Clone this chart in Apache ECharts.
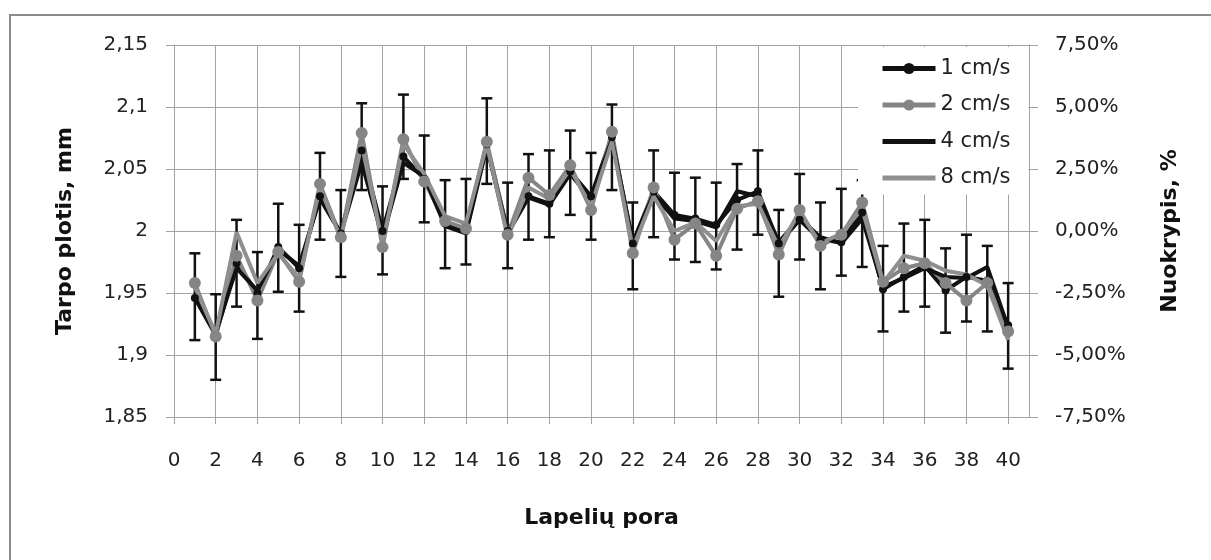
<!DOCTYPE html>
<html>
<head>
<meta charset="utf-8">
<script src="https://cdn.jsdelivr.net/npm/echarts@6/dist/echarts.min.js"></script>
<style>
html,body{margin:0;padding:0;background:#fff;}
#chart{width:1211px;height:560px;}
</style>
</head>
<body>
<div id="chart"></div>
<script>
// Lapelių pora (x)
const pora = [1,2,3,4,5,6,7,8,9,10,11,12,13,14,15,16,17,18,19,20,21,22,23,24,25,26,27,28,29,30,31,32,33,34,35,36,37,38,39,40];
// Tarpo plotis, mm
const v1 = [1.946,1.916,1.974,1.950,1.987,1.970,2.028,1.998,2.065,2.000,2.060,2.042,2.006,2.000,2.070,2.000,2.028,2.022,2.048,2.028,2.076,1.990,2.032,2.013,2.010,2.005,2.025,2.032,1.990,2.009,1.993,1.991,2.015,1.953,1.963,1.972,1.952,1.963,1.960,1.924];
const v2 = [1.958,1.915,1.980,1.944,1.983,1.959,2.038,1.995,2.079,1.987,2.074,2.040,2.008,2.002,2.072,1.997,2.043,2.029,2.053,2.017,2.080,1.982,2.035,1.993,2.006,1.980,2.018,2.024,1.981,2.017,1.988,1.997,2.023,1.959,1.970,1.974,1.958,1.944,1.958,1.919];
const v4 = [1.948,1.918,1.970,1.952,1.985,1.972,2.026,1.998,2.055,1.995,2.055,2.044,2.004,1.998,2.068,1.998,2.027,2.021,2.046,2.026,2.074,1.991,2.030,2.010,2.008,2.003,2.032,2.028,1.991,2.010,1.995,1.990,2.010,1.955,1.962,1.970,1.963,1.962,1.971,1.922];
const v8 = [1.955,1.917,1.999,1.958,1.982,1.962,2.035,1.994,2.070,1.990,2.070,2.046,2.012,2.006,2.070,1.995,2.035,2.026,2.050,2.020,2.072,1.986,2.028,2.000,2.007,1.992,2.020,2.022,1.987,2.015,1.990,1.998,2.018,1.958,1.980,1.976,1.968,1.965,1.956,1.912];
// error bar ends
const errHigh = [1.982,1.949,2.009,1.983,2.022,2.005,2.063,2.033,2.103,2.036,2.110,2.077,2.041,2.042,2.107,2.039,2.062,2.065,2.081,2.063,2.102,2.023,2.065,2.047,2.043,2.039,2.054,2.065,2.017,2.046,2.023,2.034,2.041,1.988,2.006,2.009,1.986,1.997,1.988,1.958];
const errLow  = [1.912,1.880,1.939,1.913,1.951,1.935,1.993,1.963,2.033,1.965,2.042,2.007,1.970,1.973,2.038,1.970,1.993,1.995,2.013,1.993,2.033,1.953,1.995,1.977,1.975,1.969,1.985,1.997,1.947,1.977,1.953,1.964,1.971,1.919,1.935,1.939,1.918,1.927,1.919,1.889];
const seriesNames = ['1 cm/s','2 cm/s','4 cm/s','8 cm/s'];

const FONT = 'DejaVu Sans';
const GRID = '#a3a3a3';
const BLACK = '#111111';
const GRAY = '#858585';

const pairs = arr => pora.map((p, i) => [p, arr[i]]);

const chart = echarts.init(document.getElementById('chart'), null, {renderer: 'canvas'});
chart.setOption({
  backgroundColor: '#ffffff',
  animation: false,
  graphic: [{
    type: 'rect', z: -10, silent: true,
    shape: {x: 10, y: 15, width: 1400, height: 800},
    style: {fill: 'none', stroke: '#8c8c8c', lineWidth: 2}
  }],
  grid: {left: 174, right: 182, top: 45, bottom: 143, containLabel: false, outerBoundsMode: 'none'},
  legend: {
    data: [
      {name: seriesNames[0]},
      {name: seriesNames[1]},
      {name: seriesNames[2], itemStyle: {opacity: 0}},
      {name: seriesNames[3], itemStyle: {opacity: 0}}
    ],
    orient: 'vertical',
    left: 858, top: 47,
    padding: [11, 18, 6, 22],
    backgroundColor: '#ffffff',
    itemWidth: 53, itemHeight: 14, itemGap: 15.5,
    lineStyle: {width: 5},
    textStyle: {fontFamily: FONT, fontSize: 21, color: '#1f1f1f'}
  },
  xAxis: {
    type: 'value', min: 0, max: 41, interval: 2,
    name: 'Lapelių pora', nameLocation: 'middle', nameGap: 90,
    nameTextStyle: {fontFamily: FONT, fontWeight: 'bold', fontSize: 22, color: '#111'},
    axisLine: {show: true, onZero: false, lineStyle: {color: GRID, width: 1}},
    axisTick: {show: true, length: 7, lineStyle: {color: GRID}},
    axisLabel: {
      fontFamily: FONT, fontSize: 20, color: '#222', margin: 34, showMaxLabel: false,
      formatter: v => (v > 40 ? '' : String(v))
    },
    splitLine: {show: true, lineStyle: {color: GRID, width: 1}}
  },
  yAxis: [{
    type: 'value', min: 1.85, max: 2.15, interval: 0.05, position: 'left',
    name: 'Tarpo plotis, mm', nameLocation: 'middle', nameRotate: 90, nameGap: 98,
    nameTextStyle: {fontFamily: FONT, fontWeight: 'bold', fontSize: 22, color: '#111'},
    axisLine: {show: true, onZero: false, lineStyle: {color: GRID, width: 1}},
    axisTick: {show: true, length: 8, lineStyle: {color: GRID}},
    axisLabel: {
      fontFamily: FONT, fontSize: 20, color: '#222', margin: 26,
      formatter: v => String(+(+v).toFixed(2)).replace('.', ',')
    },
    splitLine: {show: true, lineStyle: {color: GRID, width: 1}}
  }, {
    type: 'value', min: -7.5, max: 7.5, interval: 2.5, position: 'right',
    name: 'Nuokrypis, %', nameLocation: 'middle', nameRotate: 90, nameGap: 130,
    nameTextStyle: {fontFamily: FONT, fontWeight: 'bold', fontSize: 22, color: '#111'},
    axisLine: {show: true, onZero: false, lineStyle: {color: GRID, width: 1}},
    axisTick: {show: true, length: 9, lineStyle: {color: GRID}},
    axisLabel: {
      fontFamily: FONT, fontSize: 20, color: '#222', margin: 26,
      formatter: v => {
        let p = Math.round(v * 100) / 100;
        if (Math.abs(p) < 1e-9) p = 0;
        return p.toFixed(2).replace('.', ',') + '%';
      }
    },
    splitLine: {show: false}
  }],
  series: [{
    name: 'error',
    type: 'custom',
    z: 1,
    silent: true,
    encode: {x: 0, y: [1, 2]},
    data: pora.map((p, i) => [p, errLow[i], errHigh[i]]),
    renderItem: (params, api) => {
      const x = api.value(0);
      const hi = api.coord([x, api.value(2)]);
      const lo = api.coord([x, api.value(1)]);
      const c = 5.5;
      const st = {stroke: BLACK, lineWidth: 2.5};
      return {type: 'group', children: [
        {type: 'line', shape: {x1: hi[0], y1: hi[1], x2: lo[0], y2: lo[1]}, style: st},
        {type: 'line', shape: {x1: hi[0] - c, y1: hi[1], x2: hi[0] + c, y2: hi[1]}, style: st},
        {type: 'line', shape: {x1: lo[0] - c, y1: lo[1], x2: lo[0] + c, y2: lo[1]}, style: st}
      ]};
    }
  }, {
    name: seriesNames[0], type: 'line', z: 2, data: pairs(v1),
    symbol: 'circle', symbolSize: 8,
    lineStyle: {color: BLACK, width: 4}, itemStyle: {color: BLACK}
  }, {
    name: seriesNames[1], type: 'line', z: 2, data: pairs(v2),
    symbol: 'circle', symbolSize: 12,
    lineStyle: {color: GRAY, width: 4}, itemStyle: {color: GRAY}
  }, {
    name: seriesNames[2], type: 'line', z: 2, data: pairs(v4),
    symbol: 'none',
    lineStyle: {color: BLACK, width: 4}, itemStyle: {color: BLACK}
  }, {
    name: seriesNames[3], type: 'line', z: 2, data: pairs(v8),
    symbol: 'none',
    lineStyle: {color: '#8f8f8f', width: 4}, itemStyle: {color: '#8f8f8f'}
  }]
});
</script>
</body>
</html>
